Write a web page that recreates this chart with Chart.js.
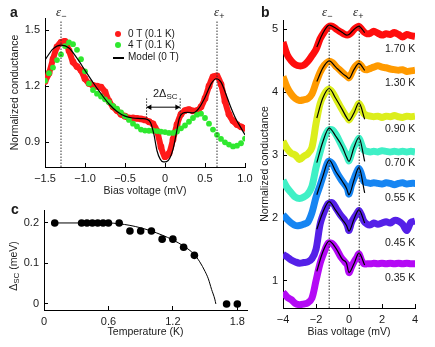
<!DOCTYPE html>
<html><head><meta charset="utf-8">
<script src="https://cdn.jsdelivr.net/npm/chart.js@4.4.1/dist/chart.umd.min.js"></script>
<style>
html,body{margin:0;padding:0;background:#fff;}
#wrap{position:relative;width:435px;height:347px;overflow:hidden;font-family:"Liberation Sans",Arial,sans-serif;color:#1a1a1a;}
canvas{position:absolute;}
.t{position:absolute;white-space:nowrap;line-height:1;}
.eps{font-family:"Liberation Serif","DejaVu Serif",serif;font-style:italic;font-size:13px;}
.eps sub{font-style:normal;font-family:"Liberation Sans",Arial,sans-serif;font-size:9px;vertical-align:-3px;}
.lab{font-weight:bold;font-size:14px;}
.leg{font-size:10px;}
.tmp{font-size:10.5px;}
.dot{position:absolute;width:6px;height:6px;border-radius:50%;}
</style></head><body><div id="wrap">
<canvas id="ca" width="255" height="200" style="left:0;top:0"></canvas>
<canvas id="cb" width="180" height="347" style="left:255px;top:0"></canvas>
<canvas id="cc" width="255" height="147" style="left:0;top:200px"></canvas>

<div class="t lab" style="left:10px;top:5px">a</div>
<div class="t lab" style="left:261px;top:5px">b</div>
<div class="t lab" style="left:11px;top:202px">c</div>

<div class="t eps" style="left:56px;top:5px">ε<sub>−</sub></div>
<div class="t eps" style="left:214px;top:5px">ε<sub>+</sub></div>
<div class="t eps" style="left:322px;top:5px">ε<sub>−</sub></div>
<div class="t eps" style="left:353px;top:5px">ε<sub>+</sub></div>

<div class="dot" style="left:115px;top:31px;background:#ff1a1a"></div>
<div class="t leg" style="left:128px;top:29px">0 T (0.1 K)</div>
<div class="dot" style="left:115px;top:42px;background:#2fe82f"></div>
<div class="t leg" style="left:128px;top:40px">4 T (0.1 K)</div>
<div class="t" style="left:113px;top:57px;width:11px;height:1.5px;background:#000"></div>
<div class="t leg" style="left:128px;top:52px">Model (0 T)</div>

<div class="t" style="left:153px;top:88px;font-size:11px">2Δ<sub style="font-size:8px;vertical-align:-2px">SC</sub></div>

<div id="temps"></div>

<div class="t" style="left:14px;top:266px;font-size:10.5px;transform:translate(-50%,-50%) rotate(-90deg)">Δ<sub style="font-size:8px;vertical-align:-2px">SC</sub> (meV)</div>
</div>
<script>
// ---------------- Panel a data ----------------
const bias = [-1.5,-1.45,-1.4,-1.35,-1.3,-1.25,-1.2,-1.15,-1.1,-1.05,-1.0,-0.95,-0.9,-0.85,-0.8,-0.75,-0.7,-0.65,-0.6,-0.55,-0.5,-0.45,-0.4,-0.35,-0.3,-0.25,-0.2,-0.15,-0.1,-0.05,0,0.05,0.1,0.15,0.2,0.25,0.3,0.35,0.4,0.45,0.5,0.55,0.6,0.65,0.7,0.75,0.8,0.85,0.9,0.95,1.0];
const red0T = [1.225,1.27,1.345,1.41,1.435,1.44,1.39,1.33,1.305,1.285,1.24,1.215,1.205,1.2,1.195,1.17,1.12,1.09,1.07,1.05,1.04,1.03,1.03,1.028,1.025,1.02,1.01,0.998,0.96,0.875,0.823,0.84,0.915,0.995,1.05,1.07,1.075,1.068,1.07,1.09,1.135,1.2,1.25,1.255,1.21,1.12,1.05,1.015,0.995,0.983,0.975];
const green4T = [1.23,1.27,1.30,1.34,1.37,1.415,1.435,1.425,1.395,1.345,1.28,1.215,1.18,1.16,1.145,1.13,1.115,1.095,1.08,1.06,1.04,1.02,1.0,0.985,0.968,0.963,0.962,0.962,0.96,0.957,0.955,0.95,0.95,0.958,0.975,0.99,1.01,1.03,1.048,1.053,1.03,1.0,0.968,0.94,0.918,0.9,0.888,0.878,0.882,0.895,0.92];
const modelX = [-1.5,-1.4,-1.3,-1.2,-1.1,-1.0,-0.9,-0.8,-0.7,-0.6,-0.5,-0.4,-0.3,-0.22,-0.18,-0.14,-0.1,-0.06,-0.02,0.02,0.06,0.1,0.14,0.18,0.22,0.28,0.35,0.42,0.5,0.58,0.64,0.7,0.76,0.82,0.88,0.94,1.0];
const modelY = [1.34,1.40,1.42,1.405,1.35,1.285,1.22,1.16,1.105,1.065,1.04,1.03,1.027,1.022,1.005,0.945,0.855,0.81,0.795,0.797,0.815,0.862,0.945,1.03,1.055,1.06,1.058,1.08,1.14,1.215,1.24,1.222,1.16,1.09,1.03,0.984,0.94];
const epsA = [-1.3, 0.65];
const gapEdges = [-0.23, 0.19];
const xTicksA = [-1.5,-1.0,-0.5,0,0.5,1.0];
const yTicksA = [0.9,1.2,1.5];

// ---------------- Panel b data ----------------
const biasB = [-4,-3.75,-3.5,-3.25,-3,-2.75,-2.5,-2.25,-2,-1.75,-1.5,-1.25,-1,-0.75,-0.5,-0.25,-0.1,0,0.15,0.3,0.45,0.6,0.75,0.9,1.1,1.3,1.5,1.75,2,2.25,2.5,2.75,3,3.25,3.5,3.75,4];
const g170 = [4.80,4.60,4.50,4.44,4.42,4.43,4.49,4.58,4.68,4.85,4.96,5.04,5.05,5.00,4.96,4.92,4.91,4.92,4.95,5.00,5.03,5.05,5.01,4.96,4.93,4.94,4.97,4.94,4.91,4.93,4.92,4.95,4.92,4.88,4.92,4.90,4.89];
const g130 = [4.25,4.08,3.97,3.90,3.87,3.88,3.90,3.97,4.15,4.32,4.43,4.49,4.47,4.40,4.34,4.28,4.25,4.23,4.30,4.38,4.43,4.46,4.42,4.37,4.36,4.38,4.40,4.42,4.40,4.39,4.37,4.36,4.35,4.36,4.33,4.34,4.35];
const g090 = [3.22,3.10,3.03,3.00,2.93,2.98,3.02,3.12,3.50,3.82,3.97,4.05,4.00,3.88,3.76,3.65,3.60,3.56,3.62,3.68,3.75,3.82,3.76,3.66,3.63,3.62,3.61,3.62,3.60,3.62,3.61,3.63,3.61,3.60,3.62,3.61,3.62];
const g070 = [2.60,2.48,2.40,2.33,2.31,2.33,2.38,2.50,2.80,3.05,3.27,3.40,3.40,3.31,3.18,3.05,2.97,2.91,3.02,3.13,3.20,3.27,3.18,3.08,3.06,3.05,3.06,3.05,3.07,3.06,3.05,3.06,3.05,3.06,3.05,3.06,3.05];
const g055 = [2.05,1.98,1.92,1.88,1.88,1.90,1.93,2.08,2.33,2.52,2.72,2.90,2.86,2.73,2.62,2.53,2.47,2.38,2.52,2.62,2.72,2.79,2.70,2.58,2.56,2.55,2.56,2.55,2.54,2.56,2.55,2.53,2.55,2.56,2.54,2.55,2.55];
const g045 = [1.42,1.38,1.33,1.30,1.28,1.29,1.30,1.35,1.50,1.90,2.10,2.23,2.24,2.14,2.04,1.96,1.88,1.80,1.93,2.00,2.06,2.12,2.05,1.95,1.90,1.89,1.92,1.90,1.92,1.94,1.92,1.96,1.95,1.90,1.80,1.93,1.95];
const g035 = [0.82,0.74,0.70,0.64,0.62,0.63,0.65,0.72,1.00,1.28,1.46,1.60,1.59,1.50,1.38,1.30,1.25,1.13,1.22,1.30,1.36,1.43,1.33,1.27,1.27,1.27,1.28,1.27,1.28,1.27,1.28,1.27,1.28,1.27,1.28,1.27,1.27];
const modelBX = [-1.95,-1.6,-1.2,-0.8,-0.4,-0.15,0,0.3,0.6,0.95];
const m170 = [4.72,4.93,5.07,5.02,4.95,4.91,4.92,5.0,5.05,4.95];
const m130 = [4.17,4.38,4.50,4.40,4.30,4.25,4.22,4.36,4.46,4.35];
const m090 = [3.59,3.90,4.06,3.90,3.72,3.60,3.55,3.67,3.83,3.57];
const m070 = [2.88,3.20,3.43,3.30,3.13,2.97,2.90,3.12,3.28,2.90];
const m055 = [2.37,2.65,2.92,2.74,2.58,2.47,2.37,2.60,2.80,2.40];
const m045 = [1.82,2.08,2.26,2.12,1.97,1.88,1.79,1.98,2.13,1.92];
const m035 = [1.15,1.45,1.63,1.52,1.34,1.28,1.13,1.27,1.44,1.25];
const tempLabels = ['1.70 K','1.30 K','0.90 K','0.70 K','0.55 K','0.45 K','0.35 K'];
const bandColors = ['#ff0d0d','#ff9a00','#dcee1c','#3ff0c6','#1685f2','#5520e8','#b40af5'];
const epsB = [-1.2, 0.62];
const xTicksB = [-4,-2,0,2,4];
const yTicksB = [1,2,3,4,5];

// ---------------- Panel c data ----------------
const tempK = [0.1,0.35,0.4,0.45,0.5,0.55,0.6,0.7,0.8,0.9,1.0,1.1,1.2,1.3,1.4,1.7,1.8];
const gapSC = [0.2,0.2,0.2,0.2,0.2,0.2,0.2,0.2,0.18,0.18,0.18,0.16,0.16,0.14,0.12,0,0];
const fitT = [0.1,0.6,0.7,0.8,0.9,1.0,1.1,1.2,1.3,1.4,1.45,1.5,1.53,1.56,1.59,1.6];
const fitGap = [0.2,0.2,0.198,0.194,0.188,0.18,0.17,0.158,0.143,0.122,0.104,0.08,0.062,0.036,0.012,0];
const xTicksC = [0,0.6,1.2,1.8];
const yTicksC = [0,0.1,0.2];

// ---------------- helpers ----------------
Chart.defaults.font.family = "'Liberation Sans', Arial, sans-serif";
Chart.defaults.color = '#1a1a1a';
const pts = (xs, ys) => xs.map((x, i) => ({x, y: ys[i]}));
const minus = s => s.replace('-', '\u2212');
const fmt1 = v => v === 0 ? '0' : minus(v.toFixed(1));
const fmt0 = v => minus(String(v));

function mkScale(pos, min, max, ticks, fmt, size, title, titlePad) {
  return {
    type: 'linear', position: pos, min, max,
    afterBuildTicks: s => { s.ticks = ticks.map(v => ({value: v})); },
    afterFit: s => {
      if (pos === 'left') s.width = size; else s.height = size;
      s.paddingTop = s.paddingBottom = s.paddingLeft = s.paddingRight = 0;
    },
    grid: {display: true, drawOnChartArea: false, drawTicks: true, tickLength: -4, color: '#000', lineWidth: 1},
    border: {display: true, color: '#000', width: 1},
    ticks: {padding: 9, font: {size: 11}, color: '#1a1a1a', callback: v => fmt(v), maxRotation: 0, autoSkip: false},
    title: title ? {display: true, text: title, font: {size: 10.5}, color: '#1a1a1a', padding: titlePad} : {display: false}
  };
}
const baseOpts = (padding, scales) => ({
  responsive: false, animation: false, devicePixelRatio: 1, events: [],
  layout: {padding},
  plugins: {legend: {display: false}, tooltip: {enabled: false}},
  scales
});
const vline = (x, y0, y1, order) => ({
  data: [{x, y: y0}, {x, y: y1}], showLine: true, borderColor: '#333', borderWidth: 1,
  borderDash: [1.5, 1.5], pointRadius: 0, order
});

// ---------------- Panel a ----------------
const yMinA = 0.768, yMaxA = 1.565;
const arrowY = 1.088;
new Chart(document.getElementById('ca'), {
  type: 'scatter',
  data: {datasets: [
    ...epsA.map(e => vline(e, yMinA, 1.553, 0)),
    ...gapEdges.map(e => vline(e, 1.135, 1.024, 0)),
    {data: [{x: gapEdges[0], y: arrowY}, {x: gapEdges[0] + 0.04, y: arrowY}, {x: gapEdges[1] - 0.04, y: arrowY}, {x: gapEdges[1], y: arrowY}],
     showLine: true, borderColor: '#000', borderWidth: 1, pointStyle: 'triangle',
     pointRadius: [0, 3.2, 3.2, 0], pointRotation: [0, -90, 90, 0], pointBackgroundColor: '#000', pointBorderWidth: 0, order: 0},
    {label: 'Model (0 T)', data: pts(modelX, modelY), showLine: true, borderColor: '#000', borderWidth: 1.2,
     pointRadius: 0, cubicInterpolationMode: 'monotone', order: 1},
    {label: '4 T (0.1 K)', data: pts(bias, green4T), showLine: false, pointRadius: 2.9,
     pointBackgroundColor: '#2fe82f', pointBorderWidth: 0, order: 2},
    {label: '0 T (0.1 K)', data: pts(bias, red0T), showLine: true, borderColor: '#ff1a1a', borderWidth: 6,
     tension: 0.3, pointRadius: 3.4, pointBackgroundColor: '#ff1a1a', pointBorderWidth: 0, order: 3}
  ]},
  options: baseOpts({left: 0, right: 10, top: 18, bottom: 0}, {
    x: mkScale('bottom', -1.5, 1.0, xTicksA, fmt1, 33, 'Bias voltage (mV)', {top: 0, bottom: 2.7}),
    y: mkScale('left', yMinA, yMaxA, yTicksA, fmt1, 45, 'Normalized conductance', {top: 8.7, bottom: 0})
  })
});

// ---------------- Panel b ----------------
const yMinB = 0.567, yMaxB = 5.15;
const bands = [g170, g130, g090, g070, g055, g045, g035];
const models = [m170, m130, m090, m070, m055, m045, m035];
new Chart(document.getElementById('cb'), {
  type: 'scatter',
  data: {datasets: [
    ...epsB.map(e => vline(e, yMinB, 5.07, 0)),
    ...models.map(m => ({data: pts(modelBX, m), showLine: true, borderColor: '#000', borderWidth: 1.2,
      pointRadius: 0, cubicInterpolationMode: 'monotone', order: 1})),
    ...bands.map((b, i) => ({label: tempLabels[i], data: pts(biasB, b), showLine: true, borderColor: bandColors[i],
      borderWidth: 7, tension: 0.3, pointRadius: 0, order: 2}))
  ]},
  options: baseOpts({left: 0, right: 20, top: 20, bottom: 0}, {
    x: mkScale('bottom', -4, 4, xTicksB, fmt0, 39, 'Bias voltage (mV)', {top: 0, bottom: 8.7}),
    y: mkScale('left', yMinB, yMaxB, yTicksB, fmt0, 28, 'Normalized conductance', {top: 3.7, bottom: 0})
  })
});
const tempTops = [42.5, 77, 123, 157, 191.5, 236.5, 271.5];
document.getElementById('temps').innerHTML = tempLabels.map((t, i) =>
  `<div class="t tmp" style="left:385px;top:${tempTops[i]}px">${t}</div>`).join('');

// ---------------- Panel c ----------------
new Chart(document.getElementById('cc'), {
  type: 'scatter',
  data: {datasets: [
    {data: pts(tempK, gapSC), showLine: false, pointRadius: 3.8, pointBackgroundColor: '#000', pointBorderWidth: 0, order: 0},
    {data: pts(fitT, fitGap), showLine: true, borderColor: '#000', borderWidth: 1, pointRadius: 0,
     cubicInterpolationMode: 'monotone', order: 1}
  ]},
  options: baseOpts({left: 0, right: 8, top: 10, bottom: 0}, {
    x: mkScale('bottom', 0, 1.89, xTicksC, fmt1, 37, 'Temperature (K)', {top: 0, bottom: 8.7}),
    y: mkScale('left', -0.015, 0.232, yTicksC, fmt1, 44, null, null)
  })
});
</script>
</body></html>
